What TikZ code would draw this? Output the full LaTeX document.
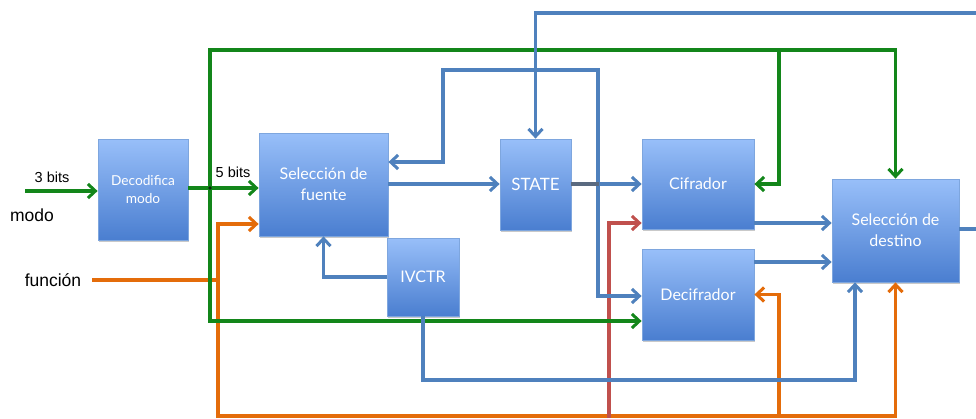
\documentclass[tikz,border=0pt]{standalone}
\usepackage{fontspec}
\setmainfont{Liberation Sans}
\newfontfamily\boxfont{Lato}
\usetikzlibrary{arrows.meta,shadows}
\definecolor{gr}{HTML}{13861A}
\definecolor{bl}{HTML}{4F81BD}
\definecolor{blg}{HTML}{5A6A80}
\definecolor{orng}{HTML}{E46C0A}
\definecolor{rd}{HTML}{C0504D}
\definecolor{boxtop}{HTML}{98BFF9}
\definecolor{boxbot}{HTML}{4A7ED0}
\definecolor{boxline}{HTML}{7EA6DE}
\tikzset{
  blk/.style={draw=boxline, line width=0.8, top color=boxtop, bottom color=boxbot,
    text=white, align=center, inner sep=0pt, font=\boxfont\fontsize{16}{21}\selectfont,
    drop shadow={shadow xshift=1.2pt, shadow yshift=-1.5pt, opacity=0.35, fill=black!60}},
  tip/.style={-{Straight Barb[length=7.5,width=14,line width=3]}},
  wire/.style={line width=3.2, line join=miter},
  gw/.style={wire, draw=gr},
  bw/.style={wire, draw=bl},
  ow/.style={wire, draw=orng},
  rw/.style={wire, draw=rd},
  lbl/.style={font=\fontsize{14.5}{16}\selectfont, inner sep=0pt},
  biglbl/.style={font=\fontsize{17.5}{20}\selectfont, inner sep=0pt}
}
\begin{document}
\begin{tikzpicture}[x=1pt,y=-1pt]
\useasboundingbox[fill=white] (0,0) rectangle (976,418);
% blocks
\node[blk, minimum width=90, minimum height=101, font=\boxfont\fontsize{13.7}{18}\selectfont] (dec) at (143,189.5) {Decodifica\\modo};
\node[blk, minimum width=129, minimum height=103] (src) at (323.5,184.5) {Selección de\\fuente};
\node[blk, minimum width=71, minimum height=91, font=\boxfont\fontsize{17}{20}\selectfont] (state) at (535.5,184.5) {STATE};
\node[blk, minimum width=72, minimum height=78, font=\boxfont\fontsize{16}{20}\selectfont] (ivctr) at (423,277) {IVCTR};
\node[blk, minimum width=112, minimum height=90] (cif) at (698,184) {Cifrador};
\node[blk, minimum width=112, minimum height=91] (decif) at (698,294.5) {Decifrador};
\node[blk, minimum width=127, minimum height=103] (dst) at (895.5,230.5) {Selección de\\destino};
% free ends
\coordinate (in3) at (25,191);
\coordinate (infn) at (92,280);
\coordinate (topR) at (976,13);
\coordinate (outR) at (976,229);
\coordinate (redB) at (609,418);
% labels
\node[lbl] (l3) at (52,177) {3 bits};
\node[lbl] (l5) at (233,172) {5 bits};
\node[biglbl] (lmodo) at (32,215.5) {modo};
\node[biglbl] (lfun) at (53,280) {función};
% orange
\draw[ow] (infn) -- (218,280);
\draw[ow,tip] (218,418) |- (src.west |- 0,224);
\draw[ow,tip] (218,416) -| (dst.south);
\draw[ow,tip] (779,416) |- (decif.east);
% red
\draw[rw,tip] (redB) |- (cif.west |- 0,223);
% green
\draw[gw,tip] (in3) -- (in3 -| dec.west);
\draw[gw,tip] (dec.east |- 0,188) -- (src.west |- 0,188);
\draw[gw,tip] (210,188) -- (210,50) -| (dst.north);
\draw[gw,tip] (779,50) |- (cif.east);
\draw[gw,tip] (210,188) |- (decif.west |- 0,321);
\fill[black!70!gr] (210,188) circle (1.8);
% blue
\draw[bw,tip] (topR) -| (state.north);
\draw[bw,tip] (src.east |- 0,184) -- (state.west |- 0,184);
\draw[bw,tip] (598,184) -- (598,70) -| (443,162) -- (src.east |- 0,162);
\draw[bw,tip] (598,184) |- (decif.west |- 0,296);
\draw[bw,tip] (598,184) -- (cif.west);
\draw[wire,draw=blg] (state.east |- 0,184) -- (599,184);
\draw[bw,tip] (ivctr.west) -| (src.south);
\draw[bw,tip] (ivctr.south) |- (855,380) -- (855,0 |- dst.south);
\draw[bw,tip] (cif.east |- 0,223) -- (dst.west |- 0,223);
\draw[bw,tip] (decif.east |- 0,262) -- (dst.west |- 0,262);
\draw[bw] (dst.east |- outR) -- (outR);
\end{tikzpicture}
\end{document}
